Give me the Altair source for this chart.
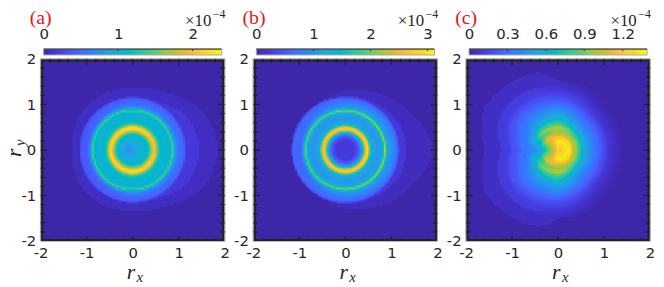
import numpy as np
import pandas as pd
import altair as alt

alt.data_transformers.disable_max_rows()

PARULA = ["#%02x%02x%02x" % tuple(int(round(c * 255)) for c in rgb) for rgb in [
    (.2422,.1504,.6603),(.2504,.1650,.7076),(.2578,.1818,.7511),(.2647,.1978,.7952),(.2706,.2147,.8364),
    (.2751,.2342,.8710),(.2783,.2559,.8991),(.2803,.2782,.9221),(.2813,.3006,.9414),(.2810,.3228,.9579),
    (.2795,.3447,.9717),(.2760,.3667,.9829),(.2699,.3892,.9906),(.2602,.4123,.9952),(.2440,.4358,.9988),
    (.2206,.4603,.9973),(.1963,.4847,.9892),(.1834,.5074,.9798),(.1786,.5289,.9682),(.1764,.5499,.9520),
    (.1687,.5703,.9359),(.1540,.5902,.9218),(.1460,.6091,.9079),(.1380,.6276,.8973),(.1248,.6459,.8883),
    (.1113,.6635,.8763),(.0952,.6798,.8598),(.0689,.6948,.8394),(.0297,.7082,.8163),(.0036,.7203,.7917),
    (.0067,.7312,.7660),(.0433,.7411,.7394),(.0964,.7500,.7120),(.1408,.7584,.6842),(.1717,.7670,.6554),
    (.1938,.7758,.6251),(.2161,.7843,.5923),(.2470,.7918,.5567),(.2906,.7973,.5188),(.3406,.8008,.4789),
    (.3909,.8029,.4354),(.4456,.8024,.3909),(.5044,.7993,.3480),(.5616,.7942,.3045),(.6174,.7876,.2612),
    (.6720,.7793,.2227),(.7242,.7698,.1910),(.7738,.7598,.1646),(.8203,.7498,.1535),(.8634,.7406,.1596),
    (.9035,.7330,.1774),(.9393,.7288,.2100),(.9728,.7298,.2394),(.9956,.7434,.2371),(.9970,.7659,.2199),
    (.9952,.7861,.1990),(.9892,.8094,.1769),(.9788,.8303,.1567),(.9698,.8539,.1390),(.9626,.8805,.1148),
    (.9597,.9113,.0936),(.9643,.9409,.0860),(.9700,.9630,.0830),(.9769,.9839,.0805)]]

# ---- readings: radial cross-sections (value in units of 1e-4) at a few angles ----
A_R = [0,.1,.2,.32,.36,.40,.44,.47,.50,.53,.57,.62,.75,.83,.87,.90,.93,.97,1.05,1.12,1.16]
A_TH = [0,90,180]
A_CORE = [
    [.95,1.0,1.05,1.08,1.25,1.55,1.9,2.0,1.95,1.6,1.25,1.1,1.02,1.1,1.45,1.05,.8,.62,.52,.47,.2],
    [.85,.9,1.0,1.08,1.3,1.65,2.1,2.3,2.15,1.75,1.3,1.1,1.02,1.1,1.5,1.05,.8,.6,.48,.42,.2],
    [.65,.7,.9,1.05,1.25,1.6,2.0,2.15,2.05,1.65,1.25,1.1,1.02,1.1,1.4,1.0,.7,.42,.38,.38,.2],
]
A_BANDS_TH = [0,30,60,90,120,150,180]
A_BANDS = [(.08,[1.84,1.72,1.42,1.34,1.37,1.37,1.32]),
           (.17,[1.45,1.40,1.20,1.12,1.13,1.17,1.15])]

B_R = [0,.15,.22,.28,.34,.38,.41,.44,.47,.50,.53,.57,.62,.70,.79,.83,.86,.89,.92,1.0,1.08,1.13,1.17]
B_TH = [0,90,180]
B_CORE = [
    [.03,.06,.25,.45,.9,1.35,1.95,2.55,2.85,2.6,1.85,1.3,1.15,1.05,1.15,1.6,2.25,1.7,1.2,1.0,.85,.7,.3],
    [.03,.06,.25,.45,.9,1.35,1.95,2.55,2.8,2.55,1.85,1.3,1.15,1.05,1.15,1.6,2.1,1.6,1.1,.9,.7,.6,.25],
    [.03,.06,.25,.45,.9,1.35,1.95,2.5,2.7,2.45,1.8,1.3,1.1,1.0,1.1,1.5,1.95,1.5,.9,.5,.65,.65,.25],
]
B_BANDS_TH = [0,30,60,90,120,150,180]
B_BANDS = [(.09,[1.90,1.62,1.41,1.30,1.12,1.10,1.10]),
           (.22,[1.33,1.30,1.20,1.17,1.12,1.10,1.10])]

C_R = [0,.1,.2,.28,.33,.4,.45,.5,.55,.6,.7,.9,1.1,1.3,1.5]
C_TH = [0,45,90,135,180]
C_CORE = [
    [1.15,1.25,1.33,1.30,.95,1.0,.80,.68,.60,.55,.42,.25,.08,.03,0],
    [1.15,1.25,1.33,1.25,1.10,.95,.85,.75,.62,.55,.42,.27,.10,.03,0],
    [1.20,1.30,1.35,1.20,1.05,.95,1.0,1.05,.85,.80,.62,.42,.22,.10,.04],
    [1.15,1.15,1.05,1.10,1.15,.85,.85,.95,.80,.70,.50,.36,.25,.13,.06],
    [1.15,1.0,.85,.65,.58,.50,.42,.40,.38,.36,.30,.20,.10,.04,.02],
]
C_BANDS_TH = [0,30,60,90,105,120,150,165,180]
C_BANDS = [(.05,[1.17,1.12,1.15,1.52,1.74,1.78,1.85,1.72,1.59]),
           (.11,[1.00,.97,1.00,1.20,1.40,1.47,1.46,1.35,1.23]),
           (.20,[.90,.90,.95,1.05,1.15,1.20,1.20,1.10,.98]),
           (.32,[.78,.78,.82,.90,.98,1.00,.98,.88,.78])]

PANELS = [
    dict(tag="(a)", vmax=2.39, ticks=[0,1,2], r=A_R, th=A_TH, core=A_CORE, bth=A_BANDS_TH, bands=A_BANDS),
    dict(tag="(b)", vmax=3.12, ticks=[0,1,2,3], r=B_R, th=B_TH, core=B_CORE, bth=B_BANDS_TH, bands=B_BANDS),
    dict(tag="(c)", vmax=1.39, ticks=[0,.3,.6,.9,1.2], r=C_R, th=C_TH, core=C_CORE, bth=C_BANDS_TH, bands=C_BANDS),
]
MAJOR = [-2,-1,0,1,2]
MINOR = [-1.8,-1.6,-1.4,-1.2,-.8,-.6,-.4,-.2,.2,.4,.6,.8,1.2,1.4,1.6,1.8]
W, H = 186, 184
NX, NY = 93, 92
DARK, GRAY, INK = "#232323", "#a8a8a8", "#262626"


def field(p):
    xe = np.linspace(-2, 2, NX + 1)
    ye = np.linspace(-2, 2, NY + 1)
    dx, dy = xe[1] - xe[0], ye[1] - ye[0]
    rows = []
    core = np.array(p["core"], float)
    for i in range(NX):
        xc = (xe[i] + xe[i + 1]) / 2
        for j in range(NY):
            yc = (ye[j] + ye[j + 1]) / 2
            r = np.hypot(xc, yc)
            th = np.degrees(np.arctan2(abs(yc), xc))
            prof = [np.interp(r, p["r"], row, right=0) for row in core]
            v = float(np.interp(th, p["th"], prof))
            for lev, radii in p["bands"]:
                if r < np.interp(th, p["bth"], radii):
                    v = max(v, lev)
            if v > 0.012:
                rows.append((round(xe[i], 4), round(xe[i + 1] + dx * .4, 4), round(ye[j], 4), round(ye[j + 1] + dy * .4, 4), round(v, 3)))
    return pd.DataFrame(rows, columns=["x", "x2", "y", "y2", "v"])


def text(s, x, y, size, color=INK, font="Liberation Serif", style="normal", angle=0, align="left"):
    kw = dict(angle=angle) if angle else {}
    return alt.Chart(pd.DataFrame({"t": [s]})).mark_text(
        text=s, font=font, fontSize=size, fontStyle=style, color=color, align=align, baseline="alphabetic", **kw
    ).encode(x=alt.value(x), y=alt.value(y))


def panel(p, first):
    xs = alt.Scale(domain=[-2, 2], nice=False, zero=False)
    ys = alt.Scale(domain=[-2, 2], nice=False, zero=False)
    col = alt.Color("v:Q", legend=None, scale=alt.Scale(domain=[0, p["vmax"]], range=PARULA))
    vx = alt.value
    labs = dict(labelFont="DejaVu Sans", labelFontSize=15, labelColor=INK, ticks=False, domain=False,
                grid=False, title=None, labelExpr="datum.value", labelFlush=False)
    heat = alt.Chart(field(p)).mark_rect(strokeWidth=0, clip=True).encode(
        x=alt.X("x:Q", scale=xs, axis=alt.Axis(values=MAJOR, labelPadding=5, **labs)),
        x2="x2:Q",
        y=alt.Y("y:Q", scale=ys, axis=alt.Axis(values=MAJOR, labelPadding=5, **labs)),
        y2="y2:Q",
        color=col,
    )
    layers = [heat]
    for vals, L in ((MINOR, 2.5), (MAJOR[1:-1], 4.5)):
        d = pd.DataFrame({"t": vals})
        rx = alt.Chart(d).mark_rule(color=DARK, strokeWidth=1.4)
        ax = alt.X("t:Q", scale=xs, axis=None)
        ay = alt.Y("t:Q", scale=ys, axis=None)
        layers += [
            rx.encode(x=ax, y=vx(0), y2=vx(L + 1.5)),
            rx.encode(x=ax, y=vx(H), y2=vx(H - L)),
            rx.encode(y=ay, x=vx(0), x2=vx(L + 2)),
            rx.encode(y=ay, x=vx(W), x2=vx(W - L - 2)),
        ]
    frame = alt.Chart(pd.DataFrame({"t": [0]})).mark_rect(fillOpacity=0, stroke=DARK, strokeWidth=2)
    layers.append(frame.encode(x=vx(1.5), x2=vx(W - 1.5), y=vx(1.5), y2=vx(H - 1)))

    # colour bar
    n = len(PARULA)
    e = np.linspace(0, p["vmax"], n + 1)
    cb = pd.DataFrame({"a": e[:-1], "b": np.minimum(e[:-1] + 2 * (e[1] - e[0]), p["vmax"]), "v": (e[:-1] + e[1:]) / 2})
    cs = alt.Scale(domain=[0, p["vmax"]], range=[3, W - 3], nice=False, zero=False)
    layers.append(alt.Chart(cb).mark_rect(strokeWidth=0).encode(
        x=alt.X("a:Q", scale=cs, axis=alt.Axis(orient="top", values=p["ticks"], offset=10, labelPadding=8, **labs)),
        x2="b:Q", y=vx(-10), y2=vx(-4), color=col))
    layers.append(alt.Chart(pd.DataFrame({"t": p["ticks"][1:]})).mark_rule(color=DARK, strokeWidth=1).encode(
        x=alt.X("t:Q", scale=cs, axis=None), y=vx(-10), y2=vx(-8)))
    layers.append(frame.mark_rect(fillOpacity=0, stroke=GRAY, strokeWidth=1).encode(x=vx(3), x2=vx(W - 3), y=vx(-10), y2=vx(-4)))
    layers.append(frame.mark_rule(color=DARK, strokeWidth=1).encode(x=vx(3), x2=vx(W - 3), y=vx(-10)))

    # texts
    layers.append(text(p["tag"], -11, -35, 20, color="#e8151b"))
    layers.append(text("×10", 146, -33, 17))
    layers.append(text("−4", 174, -41, 12))
    layers.append(text("r", 87, 222, 22, style="italic"))
    layers.append(text("x", 97, 225, 15, style="italic"))
    if first:
        layers.append(text("r", -20, 99, 22, style="italic", angle=270))
        layers.append(text("y", -16, 88, 15, style="italic", angle=270))
    return alt.layer(*layers).resolve_scale(x="independent", y="independent").properties(width=W, height=H)


chart = alt.hconcat(*[panel(p, i == 0) for i, p in enumerate(PANELS)], spacing=29, bounds="flush").resolve_scale(
    color="independent"
).configure_view(
    fill=PARULA[0], stroke=GRAY, strokeWidth=1.5
).properties(padding={"left": -6, "top": -2, "right": 0, "bottom": 0}, background="white")

chart.save("out.html", embed_options={"renderer": "svg", "actions": False})
